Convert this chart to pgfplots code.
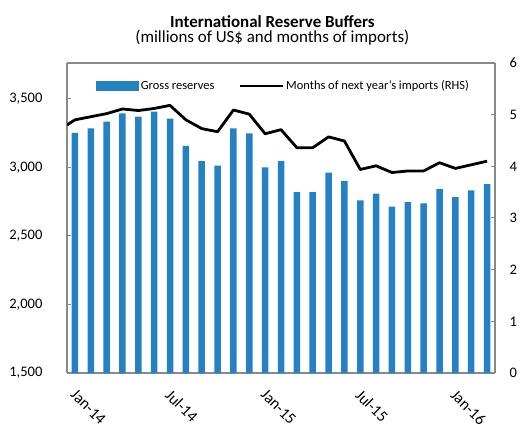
\documentclass[border=0pt]{standalone}
\usepackage{pgfplots}
\pgfplotsset{compat=1.18}
\usepackage{fontspec}
\setmainfont{Carlito}
\definecolor{barblue}{RGB}{36,129,196}
\definecolor{framegray}{RGB}{137,137,137}
\begin{document}
\begin{tikzpicture}
\pgfplotsset{
  every axis/.append style={
    scale only axis, width=428bp, height=310bp,
    xmin=-0.5, xmax=26.5,
    axis line style={framegray, line width=1.3bp},
    tick style={framegray, line width=1bp},
    tick align=inside,
    /pgf/number format/assume math mode=true,
    tick label style={font=\fontsize{14.6}{16}\selectfont, text=black},
  }
}
\begin{axis}[
  ymin=1500, ymax=3760,
  ytick={1500,2000,2500,3000,3500},
  yticklabel style={/pgf/number format/1000 sep={,}, xshift=-21bp},
  axis y line*=left,
  axis x line*=box,
  xtick={0,6,12,18,24},
  xticklabels={Jan-14,Jul-14,Jan-15,Jul-15,Jan-16},
  xtick style={draw=none},
  xticklabel style={rotate=-45, anchor=north west, xshift=6bp, yshift=-3bp, font=\fontsize{16}{18}\selectfont},
  ybar, bar width=6.5bp,
  legend columns=2,
  legend style={draw=none, fill=none, at={(0.06,0.926)}, anchor=west,
    font=\fontsize{12.5}{14}\selectfont,
    /tikz/every even column/.append style={column sep=22bp}},
  clip=false,
]
\addplot[fill=barblue, draw=none,
  legend image code/.code={\fill[barblue] (0bp,-5bp) rectangle (43bp,5bp);}]
  coordinates {
  (0,3250) (1,3283) (2,3332) (3,3393) (4,3369) (5,3405) (6,3354) (7,3155) (8,3045)
  (9,3011) (10,3283) (11,3247) (12,2999) (13,3045) (14,2819) (15,2819) (16,2960)
  (17,2901) (18,2758) (19,2807) (20,2712) (21,2746) (22,2736) (23,2843) (24,2782)
  (25,2831) (26,2877)};
\addlegendentry{Gross reserves}
\addlegendimage{legend image code/.code={\draw[black, line width=2.8bp] (0bp,0bp) -- (43bp,0bp);}}
\addlegendentry{Months of next year's imports (RHS)}
\node[anchor=base, font=\bfseries\fontsize{17}{19}\selectfont] at (rel axis cs:0.48,1.116) {International Reserve Buffers};
\node[anchor=base, font=\fontsize{17}{19}\selectfont] at (rel axis cs:0.48,1.066) {(millions of US\$ and months of imports)};
\end{axis}
\begin{axis}[
  ymin=0, ymax=6,
  ytick={0,1,2,3,4,5,6},
  yticklabel style={xshift=11bp},
  axis y line*=right,
  axis x line=none,
]
\addplot[black, line width=2.8bp, line join=round, mark=none] coordinates {
  (-0.5,4.80) (0,4.90) (1,4.96) (2,5.02) (3,5.11) (4,5.08) (5,5.12) (6,5.18) (7,4.90)
  (8,4.73) (9,4.67) (10,5.09) (11,5.01) (12,4.63) (13,4.71) (14,4.36) (15,4.36)
  (16,4.57) (17,4.49) (18,3.94) (19,4.01) (20,3.88) (21,3.91) (22,3.91) (23,4.07)
  (24,3.96) (25,4.03) (26,4.10)};
\end{axis}
\pgfresetboundingbox
\path[use as bounding box] (-67bp,-55bp) rectangle (456bp,373bp);
\end{tikzpicture}
\end{document}
